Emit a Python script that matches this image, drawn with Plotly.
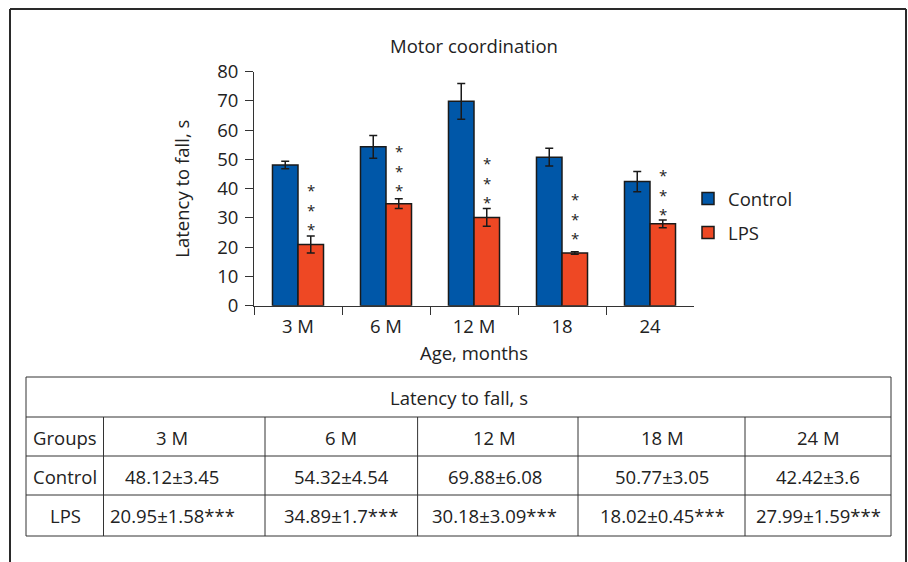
import plotly.graph_objects as go

# ---- data ----
categories = ["3 M", "6 M", "12 M", "18", "24"]
table_groups = ["3 M", "6 M", "12 M", "18 M", "24 M"]
control_mean = [48.12, 54.32, 69.88, 50.77, 42.42]
control_sd = [3.45, 4.54, 6.08, 3.05, 3.6]
lps_mean = [20.95, 34.89, 30.18, 18.02, 27.99]
lps_sd = [1.58, 1.7, 3.09, 0.45, 1.59]
# error bars as drawn in the chart
control_err = [1.3, 3.9, 6.1, 3.05, 3.5]
lps_err = [2.9, 1.65, 3.05, 0.45, 1.3]
# centre (data units) of the stacked asterisks above each LPS bar
star_mid = [33.8, 47.1, 43.0, 31.0, 39.0]
star_mark = "***"

W, H = 908, 562
FONT = "Open Sans"
FS = 18.5
TXT = "#222222"
BLUE = "#0057A8"
RED = "#EE4824"
LINE = "#1a1a1a"


def px(x):
    return x / W


def py(y):
    return 1 - y / H


fig = go.Figure()
fig.add_trace(go.Bar(
    x=categories, y=control_mean, name="Control",
    marker=dict(color=BLUE, line=dict(color=LINE, width=1.5)),
    error_y=dict(type="data", array=control_err, visible=True,
                 color=LINE, thickness=1.5, width=4),
    legendgroup="a",
))
fig.add_trace(go.Bar(
    x=categories, y=lps_mean, name="LPS",
    marker=dict(color=RED, line=dict(color=LINE, width=1.5)),
    error_y=dict(type="data", array=lps_err, visible=True,
                 color=LINE, thickness=1.5, width=4),
    legendgroup="b",
))

annotations = []
# significance asterisks stacked vertically above LPS bars (x = category index)
for i, mid in enumerate(star_mid):
    annotations.append(dict(
        x=i, y=mid, xref="x", yref="y", text="<br>".join(star_mark),
        showarrow=False, xshift=12.75, yshift=-3,
        font=dict(family=FONT, size=15, color=TXT),
        xanchor="center", yanchor="middle", align="center",
    ))

shapes = []
# outer frame
for (x0, y0, x1, y1) in [(10, 9, 906, 9), (10, 9, 10, 570), (906, 9, 906, 570)]:
    shapes.append(dict(type="line", xref="paper", yref="paper",
                       x0=px(x0), y0=py(y0), x1=px(x1), y1=py(y1),
                       line=dict(color="#2a2a2a", width=2)))

# table grid
tl, tr = 26, 891
rows_y = [377, 417, 456, 495, 536]
cols_x = [103.5, 265, 417.6, 578, 745]
for yy in rows_y:
    shapes.append(dict(type="line", xref="paper", yref="paper",
                       x0=px(tl), x1=px(tr), y0=py(yy), y1=py(yy),
                       line=dict(color="#333333", width=1)))
for xx in [tl, tr]:
    shapes.append(dict(type="line", xref="paper", yref="paper",
                       x0=px(xx), x1=px(xx), y0=py(rows_y[0]), y1=py(rows_y[-1]),
                       line=dict(color="#333333", width=1)))
for xx in cols_x:
    shapes.append(dict(type="line", xref="paper", yref="paper",
                       x0=px(xx), x1=px(xx), y0=py(rows_y[1]), y1=py(rows_y[-1]),
                       line=dict(color="#333333", width=1)))


def cell(text, x, y):
    annotations.append(dict(
        x=px(x), y=py(y), xref="paper", yref="paper", text=text,
        showarrow=False, xanchor="center", yanchor="middle",
        font=dict(family=FONT, size=FS, color=TXT),
    ))


text_cols = [172, 341, 495, 662, 818]
cell("Latency to fall, s", (tl + tr) / 2, 397)
row_centres = [437, 476, 515]
cell("Groups", 65, row_centres[0])
cell("Control", 65, row_centres[1])
cell("LPS", 65, row_centres[2])
for i, g in enumerate(table_groups):
    cell(g, text_cols[i], row_centres[0])
    cell(f"{control_mean[i]}±{control_sd[i]}", text_cols[i], row_centres[1])
    cell(f"{lps_mean[i]}±{lps_sd[i]}{star_mark}", text_cols[i], row_centres[2])

fig.update_layout(
    width=W, height=H,
    margin=dict(l=0, r=0, t=0, b=0, autoexpand=False),
    paper_bgcolor="white", plot_bgcolor="white",
    font=dict(family=FONT, size=FS, color=TXT),
    barmode="group", bargap=0.42, bargroupgap=0,
    title=dict(text="Motor coordination", x=px(474), xanchor="center",
               y=py(47), yanchor="middle",
               font=dict(family=FONT, size=FS, color=TXT)),
    showlegend=True,
    legend=dict(x=px(688), y=py(180), xanchor="left", yanchor="top",
                bgcolor="rgba(0,0,0,0)", font=dict(family=FONT, size=FS, color=TXT),
                tracegroupgap=7, itemwidth=30, traceorder="grouped"),
    xaxis=dict(domain=[px(254), px(694)], type="category",
               range=[-0.5, len(categories) - 0.5], automargin=False,
               showline=True, linecolor="#333333", linewidth=1,
               ticks="outside", ticklen=8, tickcolor="#333333",
               tickson="boundaries", showgrid=False, tickangle=0,
               ticklabelstandoff=4,
               title=dict(text="Age, months", standoff=10,
                          font=dict(family=FONT, size=FS, color=TXT)),
               tickfont=dict(family=FONT, size=FS, color=TXT)),
    yaxis=dict(domain=[py(305.7), py(71.7)], range=[0, 80], dtick=10,
               automargin=False,
               showline=True, linecolor="#333333", linewidth=1,
               ticks="outside", ticklen=8, tickcolor="#333333",
               showgrid=False, zeroline=False, ticklabelstandoff=3,
               title=dict(text="Latency to fall, s", standoff=22,
                          font=dict(family=FONT, size=FS, color=TXT)),
               tickfont=dict(family=FONT, size=FS, color=TXT)),
    shapes=shapes,
    annotations=annotations,
)

fig.write_html("out.html",
               config={"displayModeBar": False},
               post_script="document.body.style.margin='0';document.body.style.overflow='hidden';")
